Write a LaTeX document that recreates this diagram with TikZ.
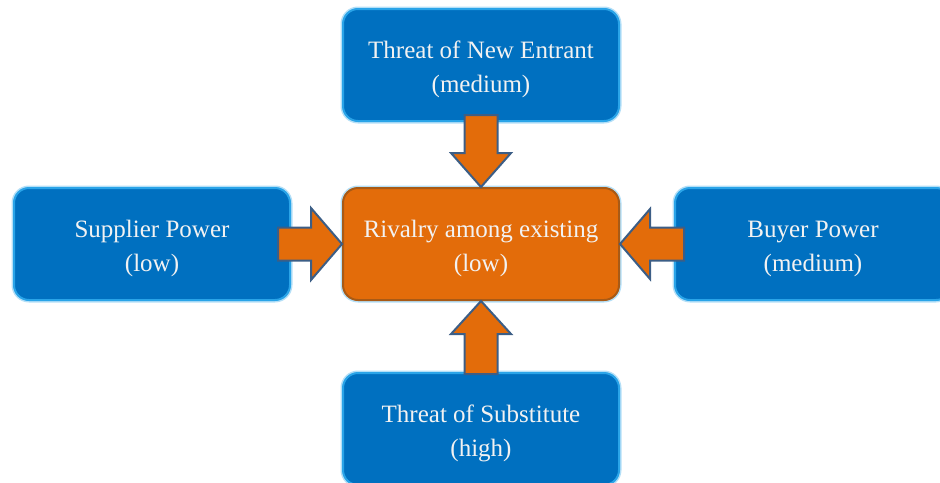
\documentclass[tikz,border=0pt]{standalone}
\usepackage{fontspec}
\setmainfont{Liberation Serif}
\usetikzlibrary{calc}
\definecolor{forceblue}{HTML}{0070C0}
\definecolor{forceedge}{HTML}{2AA4E8}
\definecolor{rivalorange}{HTML}{E36C0A}
\definecolor{rivaledge}{HTML}{A85A16}
\definecolor{arrowedge}{HTML}{3C5E86}

\begin{document}
\begin{tikzpicture}[x=0.5pt,y=-0.5pt]
    \tikzstyle{force}=[rectangle,rounded corners=7.5pt,draw=forceedge,line width=1pt,
      preaction={draw=forceedge!35,line width=2.5pt},fill=forceblue,text=white!95!black,
      align=center,minimum width=138pt,minimum height=56pt,font=\fontsize{12.5}{17}\selectfont,
      text height=30.5pt]
    \tikzstyle{rivalry}=[force,preaction={},fill=rivalorange,draw=rivaledge]
    \tikzstyle{blockarrow}=[fill=rivalorange,draw=arrowedge,line width=1pt,line join=miter]

    \useasboundingbox (0,0) rectangle (940,482);

    \node[rivalry] (R) at (481,244) {Rivalry among existing\\(low)};
    \node[force] (N) at (481,65) {Threat of New Entrant\\(medium)};
    \node[force] (L) at (152,244) {Supplier Power\\(low)};
    \node[force] (B) at (813,244) {Buyer Power\\(medium)};
    \node[force] (S) at (481,429) {Threat of Substitute\\(high)};

    % the four forces pushing on the rivalry
    \draw[blockarrow] (R.north) -- ++(-30,-34) -- ++(13.5,0) -- ($(N.south)+(-16.5,-7)$)
      -- ($(N.south)+(16.5,-7)$) -- ($(R.north)+(16.5,-34)$) -- ++(13.5,0) -- cycle;
    \draw[blockarrow] (R.south) -- ++(-30,33) -- ++(13.5,0) -- ($(S.north)+(-16.5,2)$)
      -- ($(S.north)+(16.5,2)$) -- ($(R.south)+(16.5,33)$) -- ++(13.5,0) -- cycle;
    \draw[blockarrow] (R.west) -- ++(-31,-36) -- ++(0,19.5) -- ($(L.east)+(-13,-16.5)$)
      -- ($(L.east)+(-13,16.5)$) -- ($(R.west)+(-31,16.5)$) -- ++(0,19.5) -- cycle;
    \draw[blockarrow] (R.east) -- ++(30,-35) -- ++(0,18.5) -- ($(B.west)+(10,-16.5)$)
      -- ($(B.west)+(10,16.5)$) -- ($(R.east)+(30,16.5)$) -- ++(0,18.5) -- cycle;
  \end{tikzpicture}
\end{document}
